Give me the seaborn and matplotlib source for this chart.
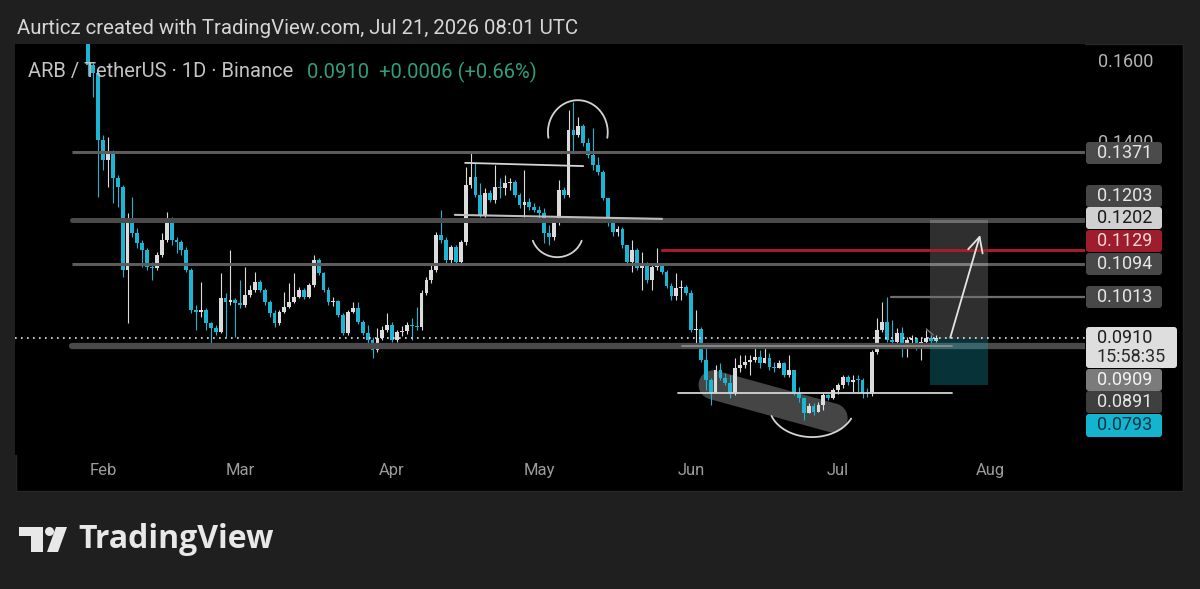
import numpy as np
import pandas as pd
import seaborn as sns
import matplotlib.pyplot as plt
import matplotlib.dates as mdates
from matplotlib.patches import Rectangle, FancyBboxPatch, Circle, Polygon

W, H = 1200, 589

# ARB / TetherUS daily candles, Jan 29 - Jul 21 2026
dates = pd.date_range('2026-01-29', '2026-07-21', freq='D')
first_open = 0.1660
closes = np.array([
    0.1588, 0.1568, 0.1402, 0.1352, 0.1369, 0.1307, 0.1285, 0.1079, 0.1203, 0.1171,
    0.1146, 0.1129, 0.1087, 0.1084, 0.1116, 0.1154, 0.1203, 0.1154, 0.1149, 0.1129,
    0.1079, 0.0980, 0.0975, 0.0980, 0.0948, 0.0935, 0.0925, 0.1010, 0.1000, 0.1005,
    0.0997, 0.0992, 0.1017, 0.1030, 0.1049, 0.1030, 0.1000, 0.0973, 0.0948, 0.0975,
    0.0987, 0.1000, 0.1012, 0.1030, 0.1012, 0.1042, 0.1104, 0.1072, 0.1030, 0.1000,
    0.1002, 0.0968, 0.0923, 0.0975, 0.0985, 0.0950, 0.0923, 0.0906, 0.0881, 0.0911,
    0.0930, 0.0943, 0.0906, 0.0925, 0.0927, 0.0943, 0.0941, 0.0938, 0.1022, 0.1054,
    0.1079, 0.1166, 0.1154, 0.1104, 0.1136, 0.1099, 0.1149, 0.1290, 0.1310, 0.1265,
    0.1216, 0.1270, 0.1253, 0.1285, 0.1283, 0.1295, 0.1297, 0.1265, 0.1240, 0.1248,
    0.1235, 0.1228, 0.1221, 0.1171, 0.1161, 0.1203, 0.1278, 0.1265, 0.1426, 0.1414,
    0.1436, 0.1394, 0.1364, 0.1340, 0.1322, 0.1258, 0.1196, 0.1173, 0.1181, 0.1141,
    0.1099, 0.1129, 0.1084, 0.1092, 0.1054, 0.1087, 0.1092, 0.1074, 0.1040, 0.1015,
    0.1035, 0.1037, 0.1022, 0.0930, 0.0933, 0.0856, 0.0806, 0.0774, 0.0831, 0.0811,
    0.0799, 0.0774, 0.0836, 0.0844, 0.0851, 0.0856, 0.0863, 0.0849, 0.0861, 0.0839,
    0.0836, 0.0849, 0.0819, 0.0831, 0.0774, 0.0762, 0.0725, 0.0742, 0.0727, 0.0744,
    0.0769, 0.0762, 0.0782, 0.0794, 0.0814, 0.0801, 0.0806, 0.0805, 0.0774, 0.0772,
    0.0876, 0.0930, 0.0950, 0.0906, 0.0901, 0.0923, 0.0893, 0.0906, 0.0911, 0.0891,
    0.0901, 0.0911, 0.0904, 0.0910])
highs = np.array([
    0.1690, 0.1592, 0.1570, 0.1414, 0.1409, 0.1377, 0.1315, 0.1290, 0.1221, 0.1260,
    0.1183, 0.1154, 0.1134, 0.1099, 0.1124, 0.1171, 0.1223, 0.1211, 0.1161, 0.1154,
    0.1136, 0.1084, 0.0992, 0.1049, 0.0985, 0.0950, 0.0943, 0.1072, 0.1022, 0.1129,
    0.1010, 0.1054, 0.1087, 0.1042, 0.1074, 0.1054, 0.1035, 0.1005, 0.0980, 0.0980,
    0.1025, 0.1047, 0.1072, 0.1037, 0.1035, 0.1047, 0.1116, 0.1109, 0.1074, 0.1037,
    0.1012, 0.1005, 0.0973, 0.0980, 0.1000, 0.1000, 0.0955, 0.0943, 0.0913, 0.0935,
    0.0940, 0.0973, 0.0950, 0.0930, 0.0940, 0.0950, 0.0960, 0.0987, 0.1030, 0.1062,
    0.1092, 0.1173, 0.1228, 0.1161, 0.1141, 0.1141, 0.1154, 0.1335, 0.1369, 0.1345,
    0.1295, 0.1283, 0.1278, 0.1340, 0.1307, 0.1315, 0.1307, 0.1302, 0.1270, 0.1327,
    0.1258, 0.1245, 0.1238, 0.1233, 0.1191, 0.1208, 0.1302, 0.1285, 0.1476, 0.1496,
    0.1459, 0.1441, 0.1407, 0.1431, 0.1359, 0.1327, 0.1258, 0.1208, 0.1188, 0.1186,
    0.1141, 0.1154, 0.1134, 0.1124, 0.1099, 0.1092, 0.1134, 0.1097, 0.1079, 0.1047,
    0.1072, 0.1054, 0.1042, 0.1030, 0.0980, 0.0938, 0.0893, 0.0811, 0.0844, 0.0849,
    0.0824, 0.0819, 0.0861, 0.0868, 0.0868, 0.0868, 0.0898, 0.0881, 0.0898, 0.0873,
    0.0851, 0.0856, 0.0851, 0.0868, 0.0831, 0.0789, 0.0764, 0.0749, 0.0749, 0.0752,
    0.0774, 0.0772, 0.0787, 0.0799, 0.0819, 0.0819, 0.0819, 0.0819, 0.0811, 0.0787,
    0.0881, 0.0960, 0.1000, 0.1013, 0.0955, 0.0935, 0.0938, 0.0913, 0.0918, 0.0911,
    0.0911, 0.0930, 0.0918, 0.0918])
lows = np.array([
    0.1560, 0.1508, 0.1260, 0.1327, 0.1285, 0.1245, 0.1235, 0.1062, 0.0948, 0.1161,
    0.1134, 0.1087, 0.1079, 0.1054, 0.1079, 0.1111, 0.1149, 0.1141, 0.1121, 0.1116,
    0.1074, 0.0973, 0.0930, 0.0963, 0.0930, 0.0888, 0.0918, 0.0923, 0.0913, 0.0992,
    0.0913, 0.0985, 0.0987, 0.1012, 0.1025, 0.1025, 0.0992, 0.0963, 0.0938, 0.0943,
    0.0973, 0.0985, 0.0997, 0.1010, 0.1007, 0.1010, 0.1037, 0.1067, 0.1025, 0.0992,
    0.0990, 0.0963, 0.0918, 0.0918, 0.0973, 0.0945, 0.0918, 0.0898, 0.0861, 0.0876,
    0.0906, 0.0925, 0.0901, 0.0901, 0.0916, 0.0920, 0.0906, 0.0930, 0.0930, 0.1017,
    0.1047, 0.1074, 0.1146, 0.1097, 0.1097, 0.1092, 0.1097, 0.1141, 0.1283, 0.1260,
    0.1211, 0.1211, 0.1248, 0.1245, 0.1258, 0.1265, 0.1278, 0.1260, 0.1233, 0.1211,
    0.1228, 0.1223, 0.1203, 0.1146, 0.1141, 0.1154, 0.1191, 0.1258, 0.1260, 0.1369,
    0.1409, 0.1387, 0.1357, 0.1327, 0.1315, 0.1253, 0.1188, 0.1164, 0.1164, 0.1134,
    0.1094, 0.1074, 0.1079, 0.1030, 0.1047, 0.1030, 0.1079, 0.1069, 0.1035, 0.1005,
    0.1005, 0.1005, 0.1017, 0.0925, 0.0898, 0.0851, 0.0782, 0.0744, 0.0774, 0.0806,
    0.0794, 0.0762, 0.0769, 0.0826, 0.0836, 0.0819, 0.0851, 0.0836, 0.0851, 0.0831,
    0.0826, 0.0836, 0.0814, 0.0814, 0.0769, 0.0752, 0.0707, 0.0725, 0.0720, 0.0727,
    0.0732, 0.0757, 0.0759, 0.0772, 0.0787, 0.0794, 0.0777, 0.0777, 0.0762, 0.0764,
    0.0767, 0.0871, 0.0925, 0.0901, 0.0896, 0.0898, 0.0863, 0.0863, 0.0888, 0.0881,
    0.0856, 0.0893, 0.0896, 0.0901])

# drawn levels and badges on the price scale
level_prices = [0.1371, 0.1203, 0.1094, 0.0891]
red_level = 0.1129
swing_high = 0.1013
last_price = 0.0910
target, entry, stop = 0.1203, 0.0909, 0.0793
month_ticks = pd.to_datetime(['2026-02-01', '2026-03-01', '2026-04-01', '2026-05-01',
                              '2026-06-01', '2026-07-01', '2026-08-01'])
month_labels = ['Feb', 'Mar', 'Apr', 'May', 'Jun', 'Jul', 'Aug']
price_ticks = [0.14, 0.16]

UP, DOWN = '#dcdcdc', '#1cb5d4'
DRAW = '#d4d4d4'

sns.set_theme(style='dark', rc={'axes.facecolor': 'black', 'figure.facecolor': '#1f1f1f'})
plt.rcParams['font.family'] = ['Roboto', 'DejaVu Sans']

fig = plt.figure(figsize=(W / 100, H / 100), dpi=100)
# chart pane: x 15..1085 px, y 44..455 px
ax = fig.add_axes([15 / W, 1 - 455 / H, (1085 - 15) / W, (455 - 44) / H])
ax.set_facecolor('black')

# black panel behind pane, price scale and time scale
fig.add_artist(Rectangle((16 / W, 1 - 491 / H), (1183 - 16) / W, (491 - 44) / H,
                         transform=fig.transFigure, fc='black', ec='#262626', lw=1, zorder=-1))

d0 = mdates.date2num(pd.Timestamp('2026-02-01'))


def dx(days):
    return d0 + days


def arc(cx, cy, w, h, t1, t2):
    t = np.radians(np.linspace(t1, t2, 80))
    ax.plot(dx(cx) + w / 2 * np.cos(t), cy + h / 2 * np.sin(t), color=DRAW, lw=1.3, zorder=7)


x = mdates.date2num(dates)
opens = np.r_[first_open, closes[:-1]]
up = closes >= opens
cols = np.where(up, UP, DOWN)
ax.vlines(x, np.minimum(lows, np.minimum(opens, closes)), np.maximum(highs, np.maximum(opens, closes)),
          colors=cols, lw=0.8, zorder=3)
ax.bar(x, np.maximum(np.abs(closes - opens), 0.00025), bottom=np.minimum(opens, closes),
       width=0.78, color=cols, linewidth=0, zorder=4)

x_left, x_right = dx(-17.96), dx(200.4)
ax.set_xlim(x_left, x_right)
ax.set_ylim(0.0620, 0.1640)

# horizontal levels
for p in level_prices:
    ax.plot([dx(-6.3), x_right], [p, p], color='#5c5c5c', lw=2.2, zorder=5, solid_capstyle='butt')
ax.plot([dx(-6.3), x_right], [0.1203, 0.1203], color='#4a4a4a', lw=3.6, zorder=5)
ax.plot([dx(-6.3), x_right], [0.0891, 0.0891], color='#4a4a4a', lw=4.5, zorder=5)
ax.plot([dx(118.2), dx(173.3)], [0.0891, 0.0891], color='#8c8c8c', lw=1.3, zorder=6)
ax.plot([dx(114.1), x_right], [red_level, red_level], color='#a51d2d', lw=2.2, zorder=6)
ax.plot([dx(160.8), x_right], [swing_high, swing_high], color='#6e6e6e', lw=1.6, zorder=6)
ax.plot([x_left, x_right], [last_price, last_price], color='#e8e8e8', lw=1.2,
        ls=(0, (1, 2.6)), zorder=7)

# pattern drawings
ax.plot([dx(73.9), dx(98.0)], [0.1345, 0.1337], color=DRAW, lw=1.3, zorder=7)
ax.plot([dx(71.8), dx(114.1)], [0.1216, 0.1206], color='#bdbdbd', lw=1.5, zorder=7)
ax.plot([dx(117.3), dx(173.3)], [0.0774, 0.0774], color=DRAW, lw=1.3, zorder=7)
arc(96.9, 0.1421, 12.2, 0.0159, -10, 190)
arc(92.7, 0.1173, 10.6, 0.0124, 200, 340)
arc(144.7, 0.0744, 17.6, 0.0159, 200, 335)
ax.plot([dx(124.5), dx(149.0)], [0.0794, 0.0712], color='#9a9a9a', alpha=0.45, lw=21,
        solid_capstyle='round', zorder=2)

# long position tool
ax.add_patch(Rectangle((dx(168.8), entry), 11.8, target - entry, fc='white', alpha=0.19, ec='none', zorder=5))
ax.add_patch(Rectangle((dx(168.8), stop), 11.8, entry - stop, fc='#19a6b8', alpha=0.3, ec='none', zorder=5))
ax.plot([dx(168.0), dx(169.4)], [0.0933, 0.0918], color='#777777', lw=1, zorder=7)
ax.annotate('', xy=(dx(179.0), 0.1166), xytext=(dx(172.9), 0.0911),
            arrowprops=dict(arrowstyle='->,head_length=0.9,head_width=0.45', color='#e4e4e4',
                            lw=1.3, shrinkA=0, shrinkB=0), zorder=8)

# axes ticks
ax.set_xticks(mdates.date2num(month_ticks))
ax.set_xticklabels(month_labels)
ax.yaxis.tick_right()
ax.set_yticks(price_ticks)
ax.set_yticklabels(['%.4f' % v for v in price_ticks])
ax.tick_params(axis='x', length=0, pad=6, colors='#9c9c9c', labelsize=12)
ax.tick_params(axis='y', length=0, pad=9.5, colors='#b4b4b4', labelsize=13)
ax.grid(False)
sns.despine(ax=ax, left=True, bottom=True)
for s in ax.spines.values():
    s.set_visible(False)


def ftext(xp, yp, s, **kw):
    return fig.text(xp / W, 1 - yp / H, s, va='center', **kw)


def badge(y0, y1, face, label, tcolor, x1=1162):
    fig.add_artist(FancyBboxPatch((1086 / 100, (H - y1) / 100), (x1 - 1086) / 100, (y1 - y0) / 100,
                                  boxstyle='round,pad=0,rounding_size=0.03',
                                  transform=fig.dpi_scale_trans, fc=face, ec='none', zorder=5))
    ftext(1097, (y0 + y1) / 2, label, color=tcolor, fontsize=13, zorder=6)


badge(142, 164, '#4b4b4b', '0.1371', '#e6e6e6')
badge(185, 207, '#464646', '0.1203', '#e6e6e6')
badge(207, 229, '#d0d0d0', '0.1202', '#1a1a1a')
badge(230, 252, '#9e1c2c', '0.1129', '#f3d6d6')
badge(253, 275, '#484848', '0.1094', '#e6e6e6')
badge(286, 308, '#484848', '0.1013', '#e6e6e6')
fig.add_artist(FancyBboxPatch((1086 / 100, (H - 368) / 100), (1177 - 1086) / 100, 41 / 100,
                              boxstyle='round,pad=0,rounding_size=0.03',
                              transform=fig.dpi_scale_trans, fc='#dedede', ec='none', zorder=5))
ftext(1097, 338, '0.0910', color='#1e1e1e', fontsize=13, zorder=6)
ftext(1097, 357, '15:58:35', color='#2a2a2a', fontsize=13, zorder=6)
badge(369, 391, '#7b7b7b', '0.0909', '#f2f2f2')
badge(391, 413, '#3f3f3f', '0.0891', '#e6e6e6')
badge(414, 437, '#14b3cf', '0.0793', '#0b3640')

# header and legend
ftext(17, 28, 'Aurticz created with TradingView.com, Jul 21, 2026 08:01 UTC', color='#d6d6d6', fontsize=14.7)
ftext(28, 72, 'ARB / TetherUS · 1D · Binance', color='#c4c4c4', fontsize=14.5)
ftext(307, 72, '0.0910  +0.0006 (+0.66%)', color='#2f9e7e', fontsize=14.5)

# TradingView logo
fig.add_artist(Rectangle((19 / 100, (H - 536) / 100), 24 / 100, 9 / 100, transform=fig.dpi_scale_trans,
                         fc='#e8e8e8', ec='none'))
fig.add_artist(Rectangle((31 / 100, (H - 552) / 100), 12 / 100, 25 / 100, transform=fig.dpi_scale_trans,
                         fc='#e8e8e8', ec='none'))
fig.add_artist(Circle((49.5 / 100, (H - 531.5) / 100), 4.5 / 100, transform=fig.dpi_scale_trans,
                      fc='#e8e8e8', ec='none'))
fig.add_artist(Polygon([(56 / 100, (H - 527) / 100), (67 / 100, (H - 527) / 100),
                        (58 / 100, (H - 552) / 100), (47 / 100, (H - 552) / 100)],
                       closed=True, transform=fig.dpi_scale_trans, fc='#e8e8e8', ec='none'))
fig.text(78 / W, 1 - 548 / H, 'TradingView', color='#e8e8e8', fontsize=23, fontweight='bold',
         va='baseline', family=['Open Sans', 'DejaVu Sans'])

fig.savefig('out.png', dpi=100, facecolor=fig.get_facecolor())
